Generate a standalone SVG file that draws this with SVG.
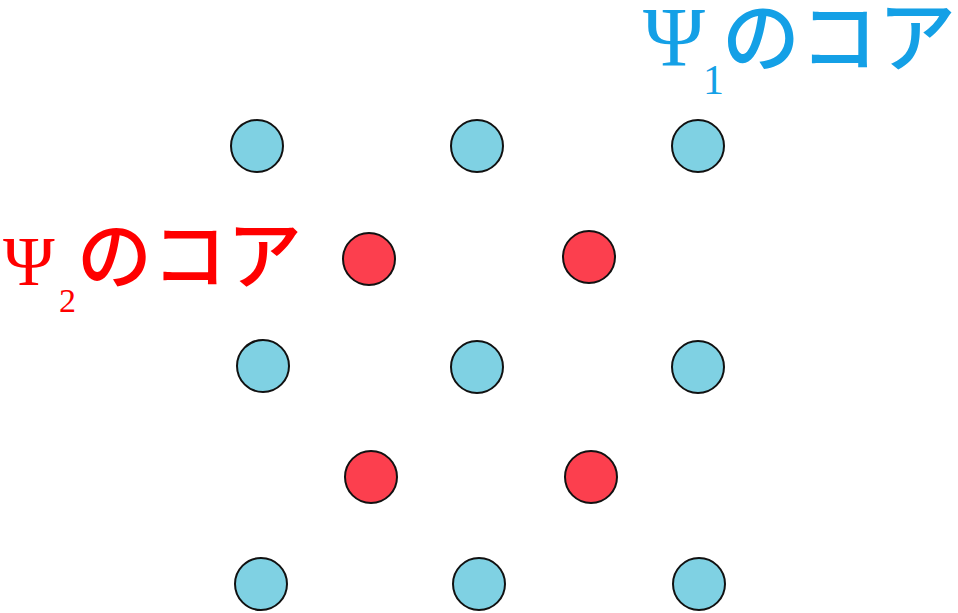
<svg xmlns="http://www.w3.org/2000/svg" width="958" height="613" viewBox="0 0 958 613">
<style>
.b{fill:#7FD1E3;stroke:#111;stroke-width:2}
.r{fill:#FC3F4E;stroke:#111;stroke-width:2}
.psi{font-family:"Liberation Serif",serif}
.jp{font-family:"Noto Sans CJK JP",sans-serif;font-weight:500}
</style>
<defs><clipPath id="cl"><rect x="0" y="0" width="726" height="613"/></clipPath></defs>
<rect width="958" height="613" fill="#fff"/>
<g id="label1" fill="#14A0E6">
<text class="psi" x="643" y="66" font-size="84">Ψ</text>
<text class="psi" x="703" y="94" font-size="42">1</text>
<text class="jp" x="722" y="66" font-size="78">のコア</text>
</g>
<g id="label2" fill="#FF0000">
<text class="psi" x="3" y="285" font-size="70">Ψ</text>
<text class="psi" x="59" y="312" font-size="34">2</text>
<text class="jp" x="77" y="283" font-size="75">のコア</text>
</g>
<g id="nodes">
<g id="b1"><circle class="b" cx="257" cy="146" r="26"/></g>
<g id="b2"><circle class="b" cx="477" cy="146" r="26"/></g>
<g id="b3"><circle class="b" cx="698" cy="146" r="26"/></g>
<g id="r1"><circle class="r" cx="369" cy="259" r="26"/></g>
<g id="r2"><circle class="r" cx="589" cy="257" r="26"/></g>
<g id="b4"><circle class="b" cx="263" cy="366" r="26"/></g>
<g id="b5"><circle class="b" cx="477" cy="367" r="26"/></g>
<g id="b6"><circle class="b" cx="698" cy="367" r="26"/></g>
<g id="r3"><circle class="r" cx="371" cy="477" r="26"/></g>
<g id="r4"><circle class="r" cx="591" cy="477" r="26"/></g>
<g id="b7"><circle class="b" cx="261" cy="584" r="26"/></g>
<g id="b8"><circle class="b" cx="479" cy="584" r="26"/></g>
<g id="b9" clip-path="url(#cl)"><circle class="b" cx="699" cy="584" r="26"/></g>
</g>
<g id="connectors"/>
</svg>
